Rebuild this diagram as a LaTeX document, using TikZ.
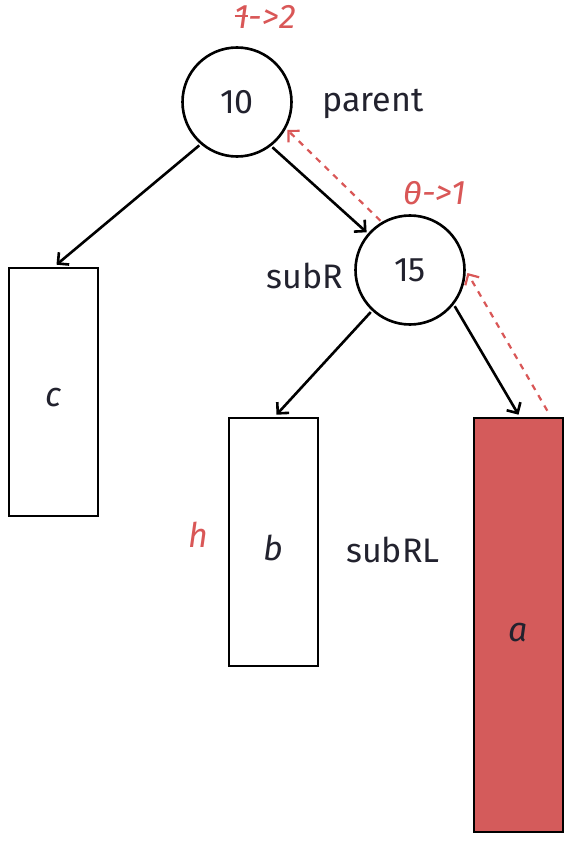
\documentclass[tikz,border=0pt]{standalone}
\usepackage{fontspec}
\setmainfont{Fira Sans}
\usetikzlibrary{arrows.meta}
\definecolor{ink}{HTML}{22222E}
\definecolor{redmark}{HTML}{D95757}
\definecolor{redfill}{HTML}{D45B5B}
\newcommand\struck[1]{\ooalign{#1\cr\hidewidth\rule[0.33em]{0.4em}{0.06em}\hidewidth\cr}}
\begin{document}
\begin{tikzpicture}[x=1pt,y=-1pt,>={Straight Barb[length=8pt,width=16pt]},
  line width=2.6pt,
  every node/.style={font=\fontsize{34}{40}\selectfont,text=ink},
  keynode/.style={draw,circle,minimum size=109pt,inner sep=0pt,outer sep=3pt},
  subtree/.style={draw,rectangle,minimum width=89pt,inner sep=0pt,text depth=0pt,font=\fontsize{34}{40}\selectfont\itshape},
  note/.style={text=redmark,font=\fontsize{34}{40}\selectfont\itshape},
  back/.style={->,redmark,line width=2.2pt,dash pattern=on 6pt off 6pt}]
  \useasboundingbox (0,0) rectangle (569,845);
  \node[keynode] (p) at (237,102) {10};
  \node[keynode] (r) at (410,270) {15};
  \node[subtree,minimum height=248pt,text height=28pt] (c) at (53.5,392) {c};
  \node[subtree,minimum height=248pt,text height=36pt] (b) at (273.5,542) {b};
  \node[subtree,minimum height=414pt,text height=32pt,fill=redfill] (a) at (518.5,625) {a};
  \node (pl) at (373,104) {parent};
  \node (rl) at (305,276) {subR};
  \node (bl) at (393,550) {subRL};
  \node[note] (h) at (198,535) {h};
  \node[note] (pn) at (265,17) {\struck{1}->2};
  \node[note] (rn) at (435,193) {\struck{0}->1};
  \draw[->] (p.-131) -- ([xshift=3pt,yshift=2pt]c.north);
  \draw[->] (p.-52) -- (r.139);
  \draw[->] (r.-133) -- ([xshift=3pt,yshift=2pt]b.north);
  \draw[->] (r.-39) -- ([yshift=2pt]a.north);
  \draw[back] (r.121) -- (p.-29);
  \draw[back] ([xshift=-17pt,yshift=6pt]a.north east) -- (r.-3);
\end{tikzpicture}
\end{document}
